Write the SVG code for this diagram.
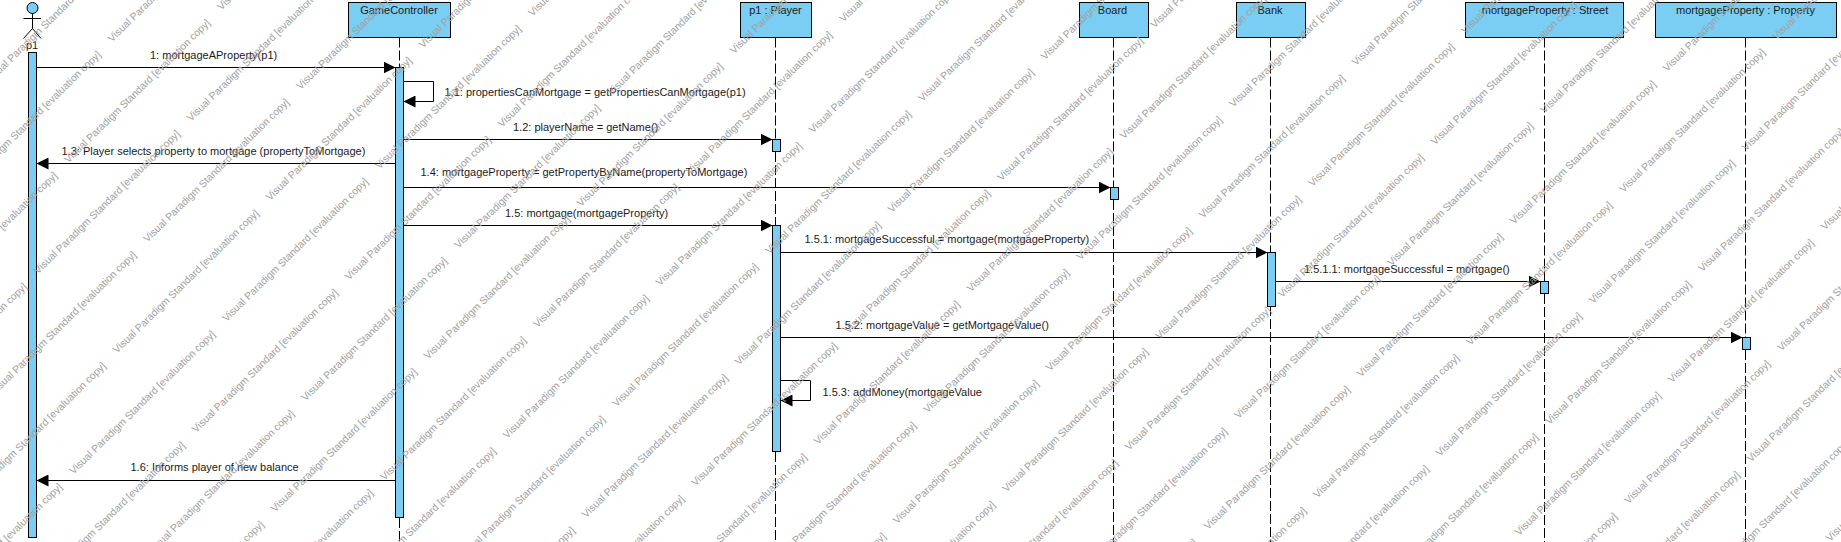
<svg xmlns="http://www.w3.org/2000/svg" width="1841" height="542" viewBox="0 0 1841 542">
<style>
.box{fill:#7acef4;stroke:#000;stroke-width:1}
.ln{fill:none;stroke:#000;stroke-width:1}
.life{fill:none;stroke:#000;stroke-width:1;stroke-dasharray:10 3}
text{font-family:"Liberation Sans",Arial,sans-serif;font-size:11px;fill:#1a1a1a}
.c{text-anchor:middle}
.wm{font-size:10.3px;fill:#a0a0a0}
</style>
<defs>
<marker id="arr" markerUnits="userSpaceOnUse" markerWidth="12" markerHeight="12" refX="12" refY="6" orient="auto"><path d="M0 0L12 6L0 12Z" fill="#000"/></marker>
<text id="w" class="wm" transform="rotate(-44.5)">Visual Paradigm Standard [evaluation copy]</text>
<g id="wl">
<use href="#w" x="0" y="0"/><use href="#w" x="122.6" y="-41.7"/>
<use href="#w" x="79" y="79.3"/><use href="#w" x="201.6" y="37.6"/>
<use href="#w" x="158" y="158.6"/><use href="#w" x="280.6" y="116.9"/>
<use href="#w" x="237" y="237.9"/><use href="#w" x="359.6" y="196.2"/>
<use href="#w" x="316" y="317.2"/><use href="#w" x="438.6" y="275.5"/>
<use href="#w" x="395" y="396.5"/><use href="#w" x="517.6" y="354.8"/>
<use href="#w" x="474" y="475.8"/><use href="#w" x="596.6" y="434.1"/>
<use href="#w" x="553" y="555.1"/><use href="#w" x="675.6" y="513.4"/>
<use href="#w" x="632" y="634.4"/><use href="#w" x="754.6" y="592.7"/>
<use href="#w" x="833.6" y="672"/>
</g>
</defs>
<g id="lifelines">
<path class="life" d="M399.5 37.5V67M775.5 37.5V139M775.5 152V225M775.5 452V542M399.5 518V542M1113.5 37.5V187M1113.5 200V542M1270.5 37.5V252M1270.5 306V542M1544.5 37.5V281M1544.5 294V542M1745.5 37.5V337M1745.5 350V542"/>
</g>
<g id="p1">
<circle class="box" cx="32.5" cy="8" r="5.5"/>
<path class="ln" d="M32.5 13.5V28.5M23.5 18.5H41M23.5 38.5L32.5 28.5L41 38.5"/>
<text class="c" x="32" y="49">p1</text>
<rect class="box" x="28.5" y="52.5" width="8" height="485"/>
</g>
<g id="gamecontroller">
<rect class="box" x="348.5" y="2.5" width="102" height="35"/>
<text class="c" x="399" y="14">GameController</text>
<rect class="box" x="395.5" y="67.5" width="8" height="450"/>
</g>
<g id="player">
<rect class="box" x="740.5" y="2.5" width="71" height="35"/>
<text class="c" x="775.5" y="14">p1 : Player</text>
<rect class="box" x="772.5" y="139.5" width="8" height="12"/>
<rect class="box" x="772.5" y="225.5" width="8" height="226"/>
</g>
<g id="board">
<rect class="box" x="1079.5" y="2.5" width="69" height="35"/>
<text class="c" x="1112.5" y="14">Board</text>
<rect class="box" x="1110.5" y="187.5" width="8" height="12"/>
</g>
<g id="bank">
<rect class="box" x="1236.5" y="2.5" width="69" height="35"/>
<text class="c" x="1270" y="14">Bank</text>
<rect class="box" x="1267.5" y="252.5" width="8" height="54"/>
</g>
<g id="street">
<rect class="box" x="1465.5" y="2.5" width="158" height="35"/>
<text class="c" x="1545" y="14">mortgageProperty : Street</text>
<rect class="box" x="1540.5" y="281.5" width="8" height="12"/>
</g>
<g id="property">
<rect class="box" x="1655.5" y="2.5" width="181" height="35"/>
<text class="c" x="1745.5" y="14">mortgageProperty : Property</text>
<rect class="box" x="1742.5" y="337.5" width="8" height="12"/>
</g>
<g id="connectors">
<path class="ln" marker-end="url(#arr)" d="M36.5 67.5H395.5"/>
<path class="ln" marker-end="url(#arr)" d="M403.5 81.5H433.5V101.5H403.5"/>
<path class="ln" marker-end="url(#arr)" d="M403.5 139.5H772.5"/>
<path class="ln" marker-end="url(#arr)" d="M395.5 163.5H36.5"/>
<path class="ln" marker-end="url(#arr)" d="M403.5 187.5H1110.5"/>
<path class="ln" marker-end="url(#arr)" d="M403.5 225.5H772.5"/>
<path class="ln" marker-end="url(#arr)" d="M780.5 252.5H1267.5"/>
<path class="ln" marker-end="url(#arr)" d="M1275.5 281.5H1540.5"/>
<path class="ln" marker-end="url(#arr)" d="M780.5 337.5H1742.5"/>
<path class="ln" marker-end="url(#arr)" d="M780.5 380.5H810.5V400.5H780.5"/>
<path class="ln" marker-end="url(#arr)" d="M395.5 480.5H36.5"/>
</g>
<g id="labels">
<text x="150" y="59">1: mortgageAProperty(p1)</text>
<text x="444.5" y="95.5">1.1: propertiesCanMortgage = getPropertiesCanMortgage(p1)</text>
<text x="513" y="131">1.2: playerName = getName()</text>
<text x="61.5" y="155">1.3: Player selects property to mortgage (propertyToMortgage)</text>
<text x="420.5" y="176">1.4: mortgageProperty = getPropertyByName(propertyToMortgage)</text>
<text x="505" y="217">1.5: mortgage(mortgageProperty)</text>
<text x="804.5" y="243">1.5.1: mortgageSuccessful = mortgage(mortgageProperty)</text>
<text x="1304" y="273">1.5.1.1: mortgageSuccessful = mortgage()</text>
<text x="835.5" y="329">1.5.2: mortgageValue = getMortgageValue()</text>
<text x="822.5" y="396">1.5.3: addMoney(mortgageValue</text>
<text x="130.5" y="471">1.6: Informs player of new balance</text>
</g>
<g id="watermark">
<use href="#wl" x="-632.5" y="72.4"/>
<use href="#wl" x="-321.5" y="78.3"/>
<use href="#wl" x="-89.5" y="4.9"/>
<use href="#wl" x="221.5" y="10.8"/>
<use href="#wl" x="532.5" y="16.7"/>
<use href="#wl" x="843.5" y="22.6"/>
<use href="#wl" x="1154.5" y="28.5"/>
<use href="#wl" x="1465.5" y="34.4"/>
<use href="#wl" x="1776.5" y="40.3"/>
</g>
</svg>
